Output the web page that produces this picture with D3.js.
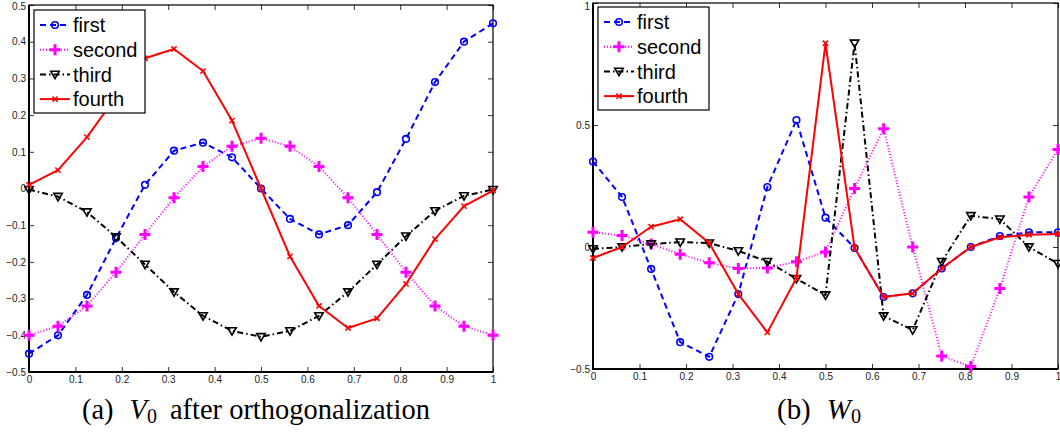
<!DOCTYPE html>
<html><head><meta charset="utf-8">
<script src="https://cdn.jsdelivr.net/npm/d3@7"></script>
<style>
body{margin:0;background:#fff;}
svg{display:block;}
</style></head>
<body>
<svg id="chart" width="1060" height="433"></svg>
<script>
// ---------- data ----------
const xValues = d3.range(17).map(i => i / 16);
const seriesNames = ["first", "second", "third", "fourth"];

// Panel (a): V0 after orthogonalization
const aFirst  = [-0.45, -0.40, -0.29, -0.135, 0.01, 0.103, 0.125, 0.085, 0.0, -0.083, -0.125, -0.10, -0.01, 0.135, 0.29, 0.40, 0.45];
const aSecond = [-0.40, -0.375, -0.32, -0.228, -0.125, -0.025, 0.06, 0.115, 0.137, 0.115, 0.06, -0.025, -0.125, -0.228, -0.32, -0.375, -0.40];
const aThird  = [-0.003, -0.022, -0.064, -0.132, -0.207, -0.282, -0.347, -0.388, -0.404, -0.388, -0.347, -0.282, -0.207, -0.13, -0.061, -0.02, -0.003];
const aFourth = [0.01, 0.05, 0.14, 0.25, 0.355, 0.38, 0.32, 0.185, 0.0, -0.185, -0.32, -0.38, -0.354, -0.26, -0.138, -0.048, -0.006];

// Panel (b): W0
const bFirst  = [0.35, 0.205, -0.09, -0.39, -0.45, -0.193, 0.246, 0.52, 0.12, -0.004, -0.205, -0.19, -0.088, 0.0, 0.045, 0.06, 0.06];
const bSecond = [0.06, 0.047, 0.012, -0.03, -0.065, -0.088, -0.086, -0.06, -0.02, 0.24, 0.485, 0.0, -0.447, -0.49, -0.17, 0.205, 0.40];
const bThird  = [-0.008, 0.0, 0.012, 0.02, 0.016, -0.016, -0.06, -0.13, -0.197, 0.835, -0.283, -0.34, -0.06, 0.128, 0.114, 0.0, -0.068];
const bFourth = [-0.045, 0.0, 0.083, 0.114, 0.016, -0.193, -0.35, -0.127, 0.835, -0.004, -0.205, -0.19, -0.088, 0.0, 0.04, 0.05, 0.053];

const xTicks = d3.range(11).map(i => i / 10);
const aYTicks = d3.range(11).map(i => (i - 5) / 10);
const bYTicks = [-0.5, 0, 0.5, 1];

// ---------- styles ----------
const styles = {
  first:  {color: "#0000ff", dash: "6,4", marker: "circle"},
  second: {color: "#ff00ff", dash: "1,2", marker: "plus"},
  third:  {color: "#000000", dash: "6,3,1.5,3", marker: "tri"},
  fourth: {color: "#ff0000", dash: null, marker: "x"}
};

const svg = d3.select("#chart");
const tickFont = "'Liberation Sans', Arial, sans-serif";

function drawMarker(g, type, color, cx, cy) {
  if (type === "circle") {
    g.append("circle").attr("cx", cx).attr("cy", cy).attr("r", 3.3)
      .attr("fill", "none").attr("stroke", color).attr("stroke-width", 1.6);
  } else if (type === "plus") {
    const s = 5.5;
    g.append("path").attr("d", `M${cx - s},${cy}H${cx + s}M${cx},${cy - s}V${cy + s}`)
      .attr("stroke", color).attr("stroke-width", 3).attr("fill", "none");
  } else if (type === "tri") {
    const s = 4.2;
    g.append("path").attr("d", `M${cx - s},${cy - s * 0.75}L${cx + s},${cy - s * 0.75}L${cx},${cy + s}Z`)
      .attr("stroke", color).attr("stroke-width", 1.6).attr("fill", "none");
  } else if (type === "x") {
    const s = 2.6;
    g.append("path").attr("d", `M${cx - s},${cy - s}L${cx + s},${cy + s}M${cx - s},${cy + s}L${cx + s},${cy - s}`)
      .attr("stroke", color).attr("stroke-width", 1.6).attr("fill", "none");
  }
}

function panel(cfg) {
  const x = d3.scaleLinear().domain([0, 1]).range([cfg.x0, cfg.x1]);
  const y = d3.scaleLinear().domain(cfg.yDomain).range([cfg.y1, cfg.y0]);
  const g = svg.append("g");

  const fmt = d => d === 0 ? "0" : d3.format("")(d);

  // axes with inward ticks
  const bottom = g.append("g").attr("transform", `translate(0,${cfg.y1})`)
    .call(d3.axisBottom(x).tickValues(xTicks).tickSize(-5).tickPadding(4).tickFormat(fmt));
  const top = g.append("g").attr("transform", `translate(0,${cfg.y0})`)
    .call(d3.axisTop(x).tickValues(xTicks).tickSize(-5).tickFormat(""));
  const left = g.append("g").attr("transform", `translate(${cfg.x0},0)`)
    .call(d3.axisLeft(y).tickValues(cfg.yTicks).tickSize(-5).tickPadding(3).tickFormat(fmt));
  const right = g.append("g").attr("transform", `translate(${cfg.x1},0)`)
    .call(d3.axisRight(y).tickValues(cfg.yTicks).tickSize(-5).tickFormat(""));
  [bottom, top, left, right].forEach(a => {
    a.select(".domain").remove();
    a.selectAll(".tick line").attr("stroke", "#000").attr("stroke-width", 0.8);
    a.selectAll("text").attr("font-family", tickFont).attr("font-size", 10).attr("fill", "#222");
  });
  // keep the topmost y label inside the picture
  left.selectAll(".tick text").filter(d => y(d) < 6).attr("dy", (6 - y(cfg.yDomain[1])) + 3.5);

  // frame
  g.append("rect").attr("x", cfg.x0).attr("y", cfg.y0)
    .attr("width", cfg.x1 - cfg.x0).attr("height", cfg.y1 - cfg.y0)
    .attr("fill", "none").attr("stroke", "#000").attr("stroke-width", 1.2);
  g.append("path").attr("d", `M${cfg.x0},${cfg.y0}V${cfg.y1}H${cfg.x1}`)
    .attr("fill", "none").attr("stroke", "#000").attr("stroke-width", 2);

  // series
  const line = d3.line().x((d, i) => x(xValues[i])).y(d => y(d));
  seriesNames.forEach((name, k) => {
    const st = styles[name];
    const data = cfg.series[k];
    const p = g.append("path").datum(data).attr("d", line)
      .attr("fill", "none").attr("stroke", st.color).attr("stroke-width", 2)
      .attr("stroke-linejoin", "round");
    if (st.dash) p.attr("stroke-dasharray", st.dash);
    const mg = g.append("g");
    data.forEach((v, i) => drawMarker(mg, st.marker, st.color, x(xValues[i]), y(v)));
  });

  // legend
  const L = cfg.legend;
  const lg = g.append("g");
  lg.append("rect").attr("x", L.x).attr("y", L.y).attr("width", L.w).attr("height", L.h)
    .attr("fill", "#fff").attr("stroke", "#000").attr("stroke-width", 1.2);
  seriesNames.forEach((name, k) => {
    const st = styles[name];
    const cy = L.y + 15 + k * 24.7;
    const lp = lg.append("path").attr("d", `M${L.x + 6},${cy}H${L.x + 36}`)
      .attr("stroke", st.color).attr("stroke-width", 2).attr("fill", "none");
    if (st.dash) lp.attr("stroke-dasharray", st.dash);
    drawMarker(lg, st.marker, st.color, L.x + 21, cy);
    lg.append("text").attr("x", L.x + 39).attr("y", cy).attr("dy", "0.36em")
      .attr("font-family", tickFont).attr("font-size", 20).attr("fill", "#000").text(name);
  });

  // caption
  const cap = g.append("text").attr("x", cfg.cap.x).attr("y", 419)
    .attr("font-family", "'Liberation Serif', 'DejaVu Serif', serif").attr("font-size", 23).attr("fill", "#000");
  cap.append("tspan").text(cfg.cap.pre);
  cap.append("tspan").attr("font-style", "italic").attr("dx", 16).text(cfg.cap.sym);
  cap.append("tspan").attr("class", "sub").attr("font-size", 16).attr("dy", 4).text("0");
  if (cfg.cap.post) cap.append("tspan").attr("dy", -4).attr("dx", 13).text(cfg.cap.post);
  const w = cap.node().getComputedTextLength() + 16 + (cfg.cap.post ? 13 : 0);
  const fs = 23 * (cfg.cap.w - 16 - (cfg.cap.post ? 13 : 0)) / (w - 16 - (cfg.cap.post ? 13 : 0));
  cap.attr("font-size", fs);
  cap.selectAll("tspan.sub").attr("font-size", fs * 0.7);
}

panel({
  x0: 29, x1: 493, y0: 5, y1: 372, yDomain: [-0.5, 0.5], yTicks: aYTicks,
  series: [aFirst, aSecond, aThird, aFourth],
  legend: {x: 34, y: 10, w: 111, h: 103},
  cap: {x: 82, w: 348, pre: "(a)", sym: "V", post: "after orthogonalization"}
});
panel({
  x0: 593, x1: 1058, y0: 3, y1: 369, yDomain: [-0.5, 1], yTicks: bYTicks,
  series: [bFirst, bSecond, bThird, bFourth],
  legend: {x: 598, y: 7, w: 111, h: 103},
  cap: {x: 777, w: 84, pre: "(b)", sym: "W", post: null}
});
</script>
</body></html>
